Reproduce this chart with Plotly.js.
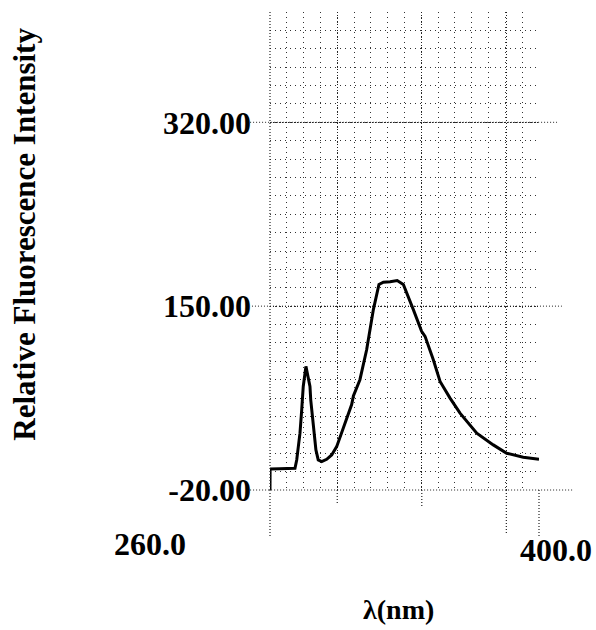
<!DOCTYPE html>
<html>
<head>
<meta charset="utf-8">
<script src="https://cdn.plot.ly/plotly-3.0.1.min.js"></script>
<style>html,body{margin:0;padding:0;background:#fff;}#chart{width:596px;height:630px;}</style>
</head>
<body>
<div id="chart"></div>
<script>
// Data
const wavelength = [260, 260.05, 265, 270, 273.0, 273.9, 275.6, 276.5, 277.3, 278.7, 280.8, 281.2, 282.5, 283.9, 285.1, 286.9, 289.5, 292.1, 294.7, 297.3, 299.9, 302.5, 303.4, 306.8, 310.3, 313.8, 316.7, 319.0, 322.5, 326.2, 329.4, 332.0, 334.6, 338.9, 340.7, 345.0, 348.5, 353.7, 358.9, 367.6, 376.2, 383.2, 391.8, 400];
const intensity  = [-20, -0.5, -0.3, 0, 0.1, 7.8, 32.5, 54.1, 75.7, 94.3, 75.7, 63.4, 38.7, 17.1, 7.8, 6.2, 8.4, 12.4, 20.1, 32.5, 44.9, 59.0, 67.0, 82.0, 109.7, 146.8, 170.0, 172.1, 172.5, 173.7, 170.0, 159.1, 146.8, 126.7, 122.1, 100.5, 80.4, 65.0, 51.1, 32.5, 21.7, 14.0, 10.3, 8.5];

const yTickVals = [-20, 150, 320];
const yTickText = ['-20.00', '150.00', '320.00'];
const xMajorVals = [260, 295, 339, 383, 400];
const xLabels = ['260.0', '400.0'];
const yTitle = 'Relative Fluorescence Intensity';
const xTitle = 'λ(nm)';

const X0 = 260, X1 = 400, Y0 = -20, Y1 = 422;
const serif = 'Liberation Serif, Times New Roman, serif';
const px = v => (v - X0) / (X1 - X0);

// extended dotted lines beyond the plot (decoration of axes)
const hExt = [ {y: 320, x0: -0.074, x1: 1.067}, {y: 150, x0: -0.067, x1: 1.085} ];
const vExt = [ {x: 260, y1: -0.098}, {x: 295, y1: -0.031}, {x: 339, y1: -0.036}, {x: 383, y1: -0.094}, {x: 400, y1: -0.098} ];
const shapes = [];
hExt.forEach(h => shapes.push({type: 'line', xref: 'paper', yref: 'paper',
  x0: h.x0, x1: h.x1, y0: (h.y - Y0) / (Y1 - Y0), y1: (h.y - Y0) / (Y1 - Y0),
  line: {color: '#222', width: 1, dash: '1px,2px'}}));
shapes.push({type: 'line', xref: 'paper', yref: 'paper', x0: -0.074, x1: 1.126, y0: 0, y1: 0,
  line: {color: '#222', width: 1, dash: '1px,2px'}});
vExt.forEach(v => shapes.push({type: 'line', xref: 'paper', yref: 'paper',
  x0: px(v.x), x1: px(v.x), y0: 0, y1: v.y1,
  line: {color: '#222', width: 1.2, dash: '1px,2px'}}));
shapes.push({type: 'line', xref: 'paper', yref: 'paper', x0: 0, x1: 0, y0: 0, y1: 1.003,
  line: {color: '#222', width: 1.2, dash: '1px,2px'}});

const trace = {
  x: wavelength, y: intensity, type: 'scatter', mode: 'lines',
  line: {color: '#000', width: 3, shape: 'linear'},
  hoverinfo: 'skip'
};

const layout = {
  width: 596, height: 630,
  margin: {l: 270, r: 57, t: 12, b: 140},
  paper_bgcolor: '#fff', plot_bgcolor: '#fff',
  showlegend: false,
  xaxis: {
    range: [X0, X1], showline: false, zeroline: false,
    tickmode: 'array', tickvals: xMajorVals, showticklabels: false, ticks: '',
    showgrid: true, gridcolor: '#222', gridwidth: 1.2, griddash: '1px,2px',
    minor: {tick0: 260, dtick: 8.75, showgrid: true, gridcolor: '#333', gridwidth: 1, griddash: '1px,4px', ticks: ''}
  },
  yaxis: {
    range: [Y0, Y1], showline: false, zeroline: false,
    tickmode: 'array', tickvals: yTickVals, ticktext: yTickText, ticks: '',
    ticklabelstandoff: 18,
    tickfont: {family: serif, size: 32, color: '#000', weight: 700},
    showgrid: true, gridcolor: '#222', gridwidth: 1, griddash: '1px,2px',
    minor: {tick0: -20, dtick: 17, showgrid: true, gridcolor: '#333', gridwidth: 1, griddash: '1px,4px', ticks: ''}
  },
  shapes: shapes,
  annotations: [
    {text: xLabels[0], xref: 'paper', yref: 'paper', x: -0.446, y: -0.113, showarrow: false,
     xanchor: 'center', yanchor: 'middle', font: {family: serif, size: 32, color: '#000', weight: 700}},
    {text: xLabels[1], xref: 'paper', yref: 'paper', x: 1.063, y: -0.1255, showarrow: false,
     xanchor: 'center', yanchor: 'middle', font: {family: serif, size: 32, color: '#000', weight: 700}},
    {text: xTitle, xref: 'paper', yref: 'paper', x: 0.476, y: -0.251, showarrow: false,
     xanchor: 'center', yanchor: 'middle', font: {family: serif, size: 28, color: '#000', weight: 700}},
    {text: yTitle, xref: 'paper', yref: 'paper', x: -0.911, y: 0.536, showarrow: false, textangle: -90,
     xanchor: 'center', yanchor: 'middle', font: {family: serif, size: 31, color: '#000', weight: 700}}
  ]
};

Plotly.newPlot('chart', [trace], layout, {staticPlot: true, displayModeBar: false});
</script>
</body>
</html>
